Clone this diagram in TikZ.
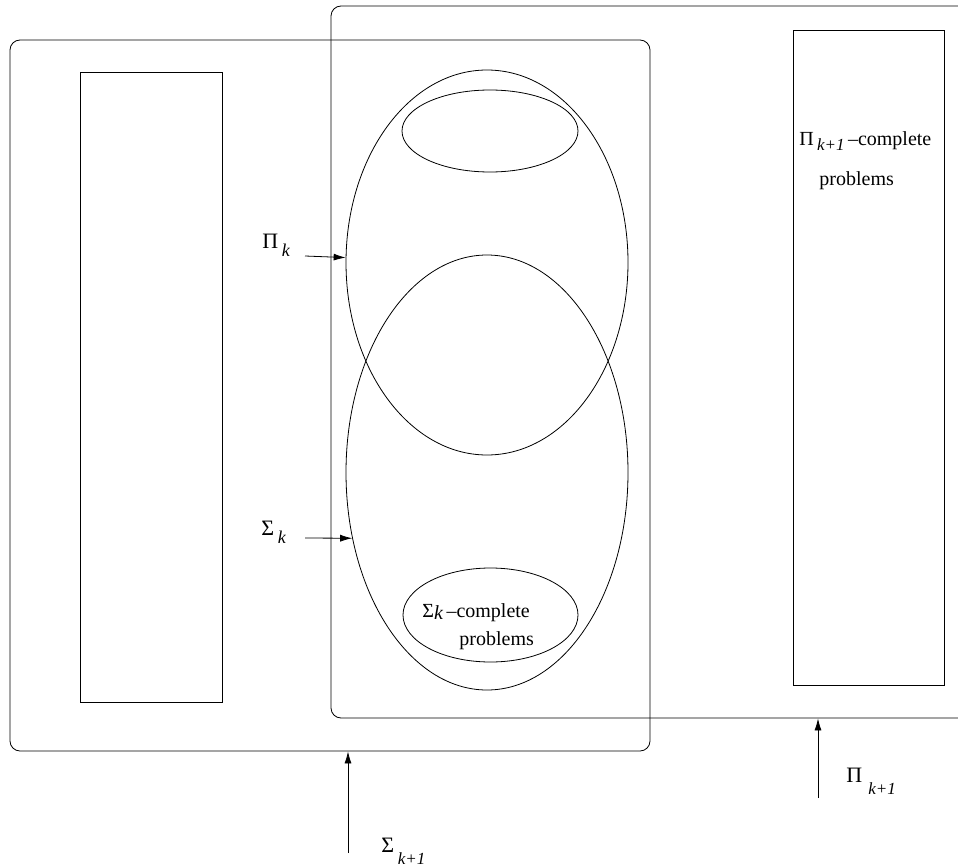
\documentclass[tikz,border=0pt]{standalone}
\usepackage{fontspec}
\setmainfont{Liberation Serif}
\usetikzlibrary{shapes.geometric,arrows.meta}
\newcommand{\lowsub}[3][4pt]{\raisebox{-#1}{\fontsize{#2}{#2}\selectfont\textit{#3}}}

\begin{document}
\begin{tikzpicture}[x=1pt,y=-1pt,line width=0.8pt,
  set/.style={draw,ellipse,inner sep=0pt},
  cls/.style={draw,rounded corners=10pt,inner sep=0pt},
  lbl/.style={font=\fontsize{22}{24}\selectfont,inner sep=0pt,anchor=base west},
  txt/.style={font=\fontsize{20}{28}\selectfont,inner sep=0pt,align=left,anchor=base west},
  pointer/.style={-{Latex[length=12pt,width=7pt]}}]
  \useasboundingbox (0,0) rectangle (958,867);
  \clip (0,0) rectangle (958,867);

  % the two big classes
  \node[cls,minimum width=640pt,minimum height=711pt] (sigkk) at (330,395.5) {};
  \node[cls,minimum width=669pt,minimum height=712pt] (pikk) at (665.5,362) {};

  % side boxes
  \draw (80,72) rectangle (222,702);
  \draw (793,30) rectangle (944,685);

  % Pi_k and Sigma_k
  \node[set,minimum width=282pt,minimum height=385pt] (pik) at (487,262.5) {};
  \node[set,minimum width=282pt,minimum height=435pt] (sigk) at (487,472.5) {};
  \node[set,minimum width=176pt,minimum height=82pt] (pitop) at (490,131) {};
  \node[set,minimum width=175pt,minimum height=94pt] (sigcomp) at (490.5,615) {};

  % complete problems
  \node[txt] (sigtxt) at (422,645) {Σ\lowsub[2pt]{20}{k}\,–complete\\\hspace{37pt}problems};
  \node[txt] (pitxt) at (799,185) {Π\,\lowsub[5pt]{17}{k+1}\,–complete\\[12pt]\hspace{20pt}problems};

  % labels and pointers
  \node[lbl] (piklab) at (262,248) {Π\,\lowsub[8pt]{18}{k}};
  \coordinate (piktail) at (305,256);
  \draw[pointer] (piktail) -- (pik.178);

  \node[lbl] (sigklab) at (261,535) {Σ\,\lowsub[8pt]{18}{k}};
  \coordinate (sigktail) at (305,538);
  \draw[pointer] (sigktail) -- (sigk.206);

  \node[lbl] (sigkklab) at (381,852) {Σ\,\lowsub[12pt]{17}{k+1}};
  \coordinate (sigkktail) at (348,853);
  \draw[pointer] (sigkktail) -- (sigkktail |- sigkk.south);

  \node[lbl] (pikklab) at (846,782) {Π\;\lowsub[12pt]{17}{k+1}};
  \coordinate (pikktail) at (818,798);
  \draw[pointer] (pikktail) -- (pikktail |- pikk.south);
\end{tikzpicture}
\end{document}
